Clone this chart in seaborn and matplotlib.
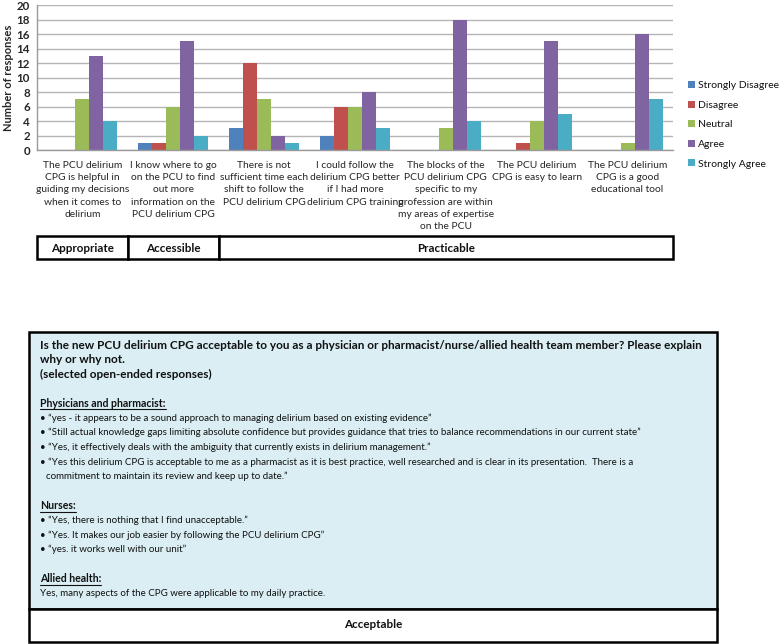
import numpy as np
import pandas as pd
import matplotlib
matplotlib.use("Agg")
import matplotlib.pyplot as plt
import matplotlib.transforms as mtransforms
from matplotlib.patches import Rectangle, Patch
import seaborn as sns

# --- data ---------------------------------------------------------------
statements = [
    "The PCU delirium\nCPG is helpful in\nguiding my decisions\nwhen it comes to\ndelirium",
    "I know where to go\non the PCU to find\nout more\ninformation on the\nPCU delirium CPG",
    "There is not\nsufficient time each\nshift to follow the\nPCU delirium CPG",
    "I could follow the\ndelirium CPG better\nif I had more\ndelirium CPG training",
    "The blocks of the\nPCU delirium CPG\nspecific to my\nprofession are within\nmy areas of expertise\non the PCU",
    "The PCU delirium\nCPG is easy to learn",
    "The PCU delirium\nCPG is a good\neducational tool",
]
responses = ["Strongly Disagree", "Disagree", "Neutral", "Agree", "Strongly Agree"]
strongly_disagree = [0, 1, 3, 2, 0, 0, 0]
disagree = [0, 1, 12, 6, 0, 1, 0]
neutral = [7, 6, 7, 6, 3, 4, 1]
agree = [13, 15, 2, 8, 18, 15, 16]
strongly_agree = [4, 2, 1, 3, 4, 5, 7]
y_ticks = list(range(0, 21, 2))

groups = ["Appropriate", "Accessible", "Practicable"]
group_sizes = [1, 1, 5]

question = [
    "Is the new PCU delirium CPG acceptable to you as a physician or pharmacist/nurse/allied health team member? Please explain",
    "why or why not.",
    "(selected open-ended responses)",
]
physician_quotes = [
    "\u201cyes - it appears to be a sound approach to managing delirium based on existing evidence\u201d",
    "\u201cStill actual knowledge gaps limiting absolute confidence but provides guidance that tries to balance recommendations in our current state\u201d",
    "\u201cYes, it effectively deals with the ambiguity that currently exists in delirium management.\u201d",
    "\u201cYes this delirium CPG is acceptable to me as a pharmacist as it is best practice, well researched and is clear in its presentation.  There is a\ncommitment to maintain its review and keep up to date.\u201d",
]
nurse_quotes = [
    "\u201cYes, there is nothing that I find unacceptable.\u201d",
    "\u201cYes. It makes our job easier by following the PCU delirium CPG\u201d",
    "\u201cyes. it works well with our unit\u201d",
]
allied_text = "Yes, many aspects of the CPG were applicable to my daily practice."
verdict = "Acceptable"

colors = ["#4F81BD", "#C0504D", "#9BBB59", "#8064A2", "#4BACC6"]

df = pd.DataFrame({
    "statement": np.repeat(statements, len(responses)),
    "response": responses * len(statements),
    "count": np.column_stack([strongly_disagree, disagree, neutral,
                              agree, strongly_agree]).ravel(),
})

# --- figure -------------------------------------------------------------
sns.set_style("white")
plt.rcParams["font.family"] = ["Lato", "DejaVu Sans"]
plt.rcParams["text.color"] = "#111111"

W, H = 780, 644
fig = plt.figure(figsize=(W / 100, H / 100), dpi=100)

# overlay in pixel coordinates for the boxes below the chart
over = fig.add_axes([0, 0, 1, 1], zorder=0)
over.set_xlim(0, W)
over.set_ylim(H, 0)
over.axis("off")

ax = fig.add_axes([37 / W, 1 - 150 / H, 636 / W, 145 / H], zorder=2)
sns.barplot(data=df, x="statement", y="count", hue="response",
            hue_order=responses, palette=colors, saturation=1,
            width=0.77, gap=0, ax=ax, legend=False, edgecolor="none")

ax.set_ylim(0, 20)
ax.set_xlim(-0.5, len(statements) - 0.5)
ax.set_yticks(y_ticks)
ax.set_yticklabels([str(v) for v in y_ticks], fontsize=8.3, fontweight="bold")
ax.set_ylabel("Number of responses", fontsize=8, fontweight="bold", labelpad=2)
ax.set_xlabel("")
ax.yaxis.grid(True, color="#b5b5b5", lw=1)
ax.set_axisbelow(True)
for s in ["top", "right"]:
    ax.spines[s].set_visible(False)
for s in ["left", "bottom"]:
    ax.spines[s].set_color("#9a9a9a")
    ax.spines[s].set_linewidth(1)

# category boundaries as ticks, statements as minor (label) ticks
ax.set_xticks(np.arange(-0.5, len(statements), 1))
ax.set_xticklabels([])
ax.set_xticks(range(len(statements)), minor=True)
ax.set_xticklabels(statements, minor=True, fontsize=7.4, linespacing=1.45, va="top")
ax.tick_params(axis="x", which="major", length=4, color="#9a9a9a", direction="out")
ax.tick_params(axis="x", which="minor", length=0, pad=8)
ax.tick_params(axis="y", length=3, color="#9a9a9a", direction="out", pad=2)

# legend
handles = [Patch(facecolor=c, edgecolor="none") for c in colors]
fig.legend(handles, responses, loc="upper left",
           bbox_to_anchor=(684 / W, 1 - 77 / H), frameon=False,
           fontsize=7.5, handlelength=0.65, handleheight=0.65,
           handletextpad=0.3, labelspacing=1.0, borderaxespad=0)

# category group box
blend = mtransforms.blended_transform_factory(ax.transData, over.transData)
start = -0.5
for name, size in zip(groups, group_sizes):
    over.add_patch(Rectangle((start, 236), size, 23, transform=blend,
                             facecolor="white", edgecolor="black", lw=1.8,
                             clip_on=False))
    over.text(start + size / 2, 248, name, transform=blend, ha="center",
              va="center", fontsize=8.4, fontweight="bold")
    start += size

# open-ended response panel
over.add_patch(Rectangle((29, 332), 688, 277, facecolor="#DAEEF3",
                         edgecolor="black", lw=1.8))
over.add_patch(Rectangle((29, 609), 688, 33, facecolor="white",
                         edgecolor="black", lw=1.8))
over.text(373, 624, verdict, ha="center", va="center", fontsize=8.4,
          fontweight="bold")

lines = [(q, "bold") for q in question] + [("", None)]
lines += [("Physicians and pharmacist:", "head")]
for q in physician_quotes:
    parts = q.split("\n")
    lines.append(("\u2022 " + parts[0], "normal"))
    for p in parts[1:]:
        lines.append((p, "indent"))
lines += [("", None), ("Nurses:", "head")]
lines += [("\u2022 " + q, "normal") for q in nurse_quotes]
lines += [("", None), ("Allied health:", "head"), (allied_text, "normal")]

heads = []
for i, (txt, kind) in enumerate(lines):
    if kind is None:
        continue
    y = 345 + 14.6 * i
    x = 46 if kind == "indent" else 40
    if kind == "bold":
        size, weight = 8.5, "bold"
    elif kind == "head":
        size, weight = 7.6, "bold"
    else:
        size, weight = 7.0, "normal"
    t = over.text(x, y, txt, ha="left", va="center", fontsize=size,
                  fontweight=weight)
    if kind == "head":
        heads.append((t, y))

fig.canvas.draw()
inv = over.transData.inverted()
for t, y in heads:
    bb = t.get_window_extent()
    x0 = inv.transform((bb.x0, 0))[0]
    x1 = inv.transform((bb.x1, 0))[0]
    over.plot([x0, x1], [y + 6, y + 6], color="#111111", lw=0.8)

fig.savefig("out.png", dpi=100)
plt.close(fig)
